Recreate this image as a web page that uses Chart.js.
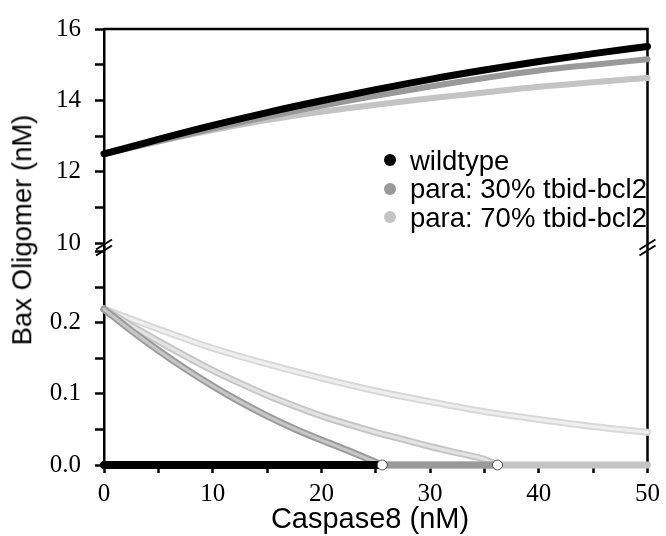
<!DOCTYPE html>
<html>
<head>
<meta charset="utf-8">
<script src="https://cdn.jsdelivr.net/npm/chart.js@4.4.1/dist/chart.umd.min.js"></script>
<style>
  html, body { margin: 0; padding: 0; background: #fff; }
  #wrap { position: relative; width: 666px; height: 536px; overflow: hidden; }
  #chart { position: absolute; left: 0; top: 0; }
  .txt { position: absolute; font-family: 'Liberation Sans', Arial, sans-serif; font-size: 27px; color: #000; white-space: nowrap; line-height: 1; }
  #yTitle { left: 22px; top: 230px; font-size: 27.5px; transform: translate(-50%, -50%) rotate(-90deg); }
  #xTitle { left: 370px; top: 518px; font-size: 29px; transform: translate(-50%, -50%); }
  #legend { left: 384px; top: 146px; font-size: 27.5px; }
  .row { height: 28.5px; display: flex; align-items: center; }
  .dot { width: 12px; height: 12px; border-radius: 50%; margin-right: 14px; flex: none; }
</style>
</head>
<body>
<div id="wrap">
  <canvas id="chart" width="666" height="536"></canvas>
  <div class="txt" id="yTitle">Bax Oligomer (nM)</div>
  <div class="txt" id="xTitle">Caspase8 (nM)</div>
  <div class="txt" id="legend"></div>
</div>
<script>
// series names / colours
const seriesNames = ['wildtype', 'para: 30% tbid-bcl2', 'para: 70% tbid-bcl2'];
const seriesColors = ['#000000', '#999999', '#c4c4c4'];

// upper branch (stable, high Bax)
const xUpper = [0, 5, 10, 15, 20, 25, 30, 35, 40, 45, 50];
const upperWild = [12.5, 12.91, 13.30, 13.66, 13.99, 14.30, 14.59, 14.85, 15.09, 15.31, 15.51];
const upper30 = [12.5, 12.86, 13.21, 13.54, 13.85, 14.13, 14.39, 14.63, 14.84, 15.00, 15.15];
const upper70 = [12.5, 12.85, 13.17, 13.45, 13.68, 13.88, 14.06, 14.22, 14.38, 14.51, 14.63];

// lower branch (stable, zero) – ends at bifurcation point
const lowWildX = [0, 25.6];
const low30X = [0, 36.2];
const low70X = [0, 50];
const lowY = [0, 0];

// unstable branches
const unstWildX = [0, 2.5, 5, 7.5, 10, 12.5, 15, 17.5, 20, 22.5, 25.6];
const unstWildY = [0.219, 0.189, 0.161, 0.135, 0.111, 0.089, 0.069, 0.051, 0.035, 0.020, 0.0];
const unst30X = [0, 2.5, 5, 7.5, 10, 12.5, 15, 17.5, 20, 22.5, 25, 27.5, 30, 32.5, 35, 36.2];
const unst30Y = [0.219, 0.196, 0.174, 0.153, 0.133, 0.115, 0.098, 0.083, 0.069, 0.057, 0.046, 0.036, 0.026, 0.017, 0.008, 0.0];
const unst70X = [0, 5, 10, 15, 20, 25, 30, 35, 40, 45, 50];
const unst70Y = [0.219, 0.191, 0.164, 0.142, 0.122, 0.104, 0.089, 0.075, 0.064, 0.054, 0.046];

// bifurcation points
const bifX = [25.6, 36.2];
const bifY = [0, 0];

// ticks
const xTicks = [0, 5, 10, 15, 20, 25, 30, 35, 40, 45, 50];
const xLabeled = [0, 10, 20, 30, 40, 50];
const yTopTicks = [10, 11, 12, 13, 14, 15, 16];
const yTopLabeled = [10, 12, 14, 16];
const yBotTicks = [0, 0.05, 0.1, 0.15, 0.2, 0.25, 0.3];
const yBotLabeled = [0, 0.1, 0.2];

const pts = (xs, ys) => xs.map((x, i) => ({ x, y: ys[i] }));

// legend (html)
const legendEl = document.getElementById('legend');
seriesNames.forEach((n, i) => {
  const row = document.createElement('div');
  row.className = 'row';
  row.innerHTML = `<span class="dot" style="background:${seriesColors[i]}"></span><span>${n}</span>`;
  legendEl.appendChild(row);
});

function line(data, color, width, axis, extra = {}) {
  return {
    data, yAxisID: axis, borderColor: color, backgroundColor: color, borderWidth: width,
    pointRadius: 0, showLine: true, fill: false, clip: 10,
    borderCapStyle: 'round', borderJoinStyle: 'round', cubicInterpolationMode: 'monotone',
    ...extra,
  };
}

const serif = { family: "'Liberation Serif', 'Times New Roman', serif", size: 25 };

const framePlugin = {
  id: 'frame',
  beforeDatasetsDraw(chart) {
    const { ctx, chartArea: a } = chart;
    ctx.save();
    ctx.strokeStyle = '#000';
    ctx.lineWidth = 2.5;
    ctx.beginPath();
    ctx.moveTo(a.left, a.top);
    ctx.lineTo(a.right, a.top);
    ctx.lineTo(a.right, a.bottom);
    ctx.stroke();
    ctx.restore();
  },
  afterDatasetsDraw(chart) {
    const { ctx, chartArea: a } = chart;
    const yb = chart.scales.yTop.bottom;
    ctx.save();
    ctx.strokeStyle = '#000';
    ctx.lineWidth = 2;
    [a.left, a.right].forEach((x) => {
      [-3, 3].forEach((d) => {
        ctx.beginPath();
        ctx.moveTo(x - 8, yb + d + 5);
        ctx.lineTo(x + 8, yb + d - 5);
        ctx.stroke();
      });
    });
    ctx.restore();
  },
};

const yCommon = {
  type: 'linear', position: 'left', stack: 'y',
  grid: { drawOnChartArea: false, tickLength: 9, tickWidth: 2.5, tickColor: '#000' },
  border: { color: '#000', width: 2.5 },
  afterFit: (s) => { s.width = 104; },
};

new Chart(document.getElementById('chart'), {
  type: 'scatter',
  data: {
    datasets: [
      // bifurcation markers on top
      {
        data: pts(bifX, bifY), yAxisID: 'yBot', showLine: false, clip: false,
        pointRadius: 5, pointBackgroundColor: '#fff', pointBorderColor: '#555', pointBorderWidth: 1,
      },
      line(pts(xUpper, upperWild), seriesColors[0], 7, 'yTop'),
      line(pts(xUpper, upper30), seriesColors[1], 6, 'yTop'),
      line(pts(xUpper, upper70), seriesColors[2], 6, 'yTop'),
      line(pts(lowWildX, lowY), seriesColors[0], 8, 'yBot'),
      line(pts(low30X, lowY), seriesColors[1], 7, 'yBot'),
      line(pts(low70X, lowY), seriesColors[2], 7, 'yBot'),
      // unstable branches: light core over darker rim
      line(pts(unstWildX, unstWildY), '#c8c8c8', 3, 'yBot'),
      line(pts(unstWildX, unstWildY), '#9c9c9c', 7, 'yBot'),
      line(pts(unst30X, unst30Y), '#e4e4e4', 3, 'yBot'),
      line(pts(unst30X, unst30Y), '#c6c6c6', 7, 'yBot'),
      line(pts(unst70X, unst70Y), '#efefef', 3, 'yBot'),
      line(pts(unst70X, unst70Y), '#d8d8d8', 7, 'yBot'),
    ],
  },
  options: {
    responsive: false,
    animation: false,
    layout: { padding: { top: 24, right: 17, left: 0, bottom: 0 } },
    plugins: { legend: { display: false }, tooltip: { enabled: false } },
    scales: {
      x: {
        type: 'linear', min: 0, max: 50,
        afterBuildTicks: (ax) => { ax.ticks = xTicks.map((v) => ({ value: v })); },
        ticks: { callback: (v) => (xLabeled.includes(v) ? String(v) : ''), font: serif, color: '#000', padding: 6, maxRotation: 0, autoSkip: false },
        grid: { drawOnChartArea: false, tickLength: 8, tickWidth: 2.5, tickColor: '#000' },
        border: { color: '#000', width: 2.5 },
        afterFit: (s) => { s.height = 71; },
      },
      yBot: {
        ...yCommon, stackWeight: 220, min: 0, max: 0.3056,
        afterBuildTicks: (ax) => { ax.ticks = yBotTicks.map((v) => ({ value: v })); },
        ticks: { callback: (v) => (yBotLabeled.includes(v) ? v.toFixed(1) : ''), font: serif, color: '#000', padding: 14, autoSkip: false },
      },
      yTop: {
        ...yCommon, stackWeight: 221, min: 9.88, max: 16,
        afterBuildTicks: (ax) => { ax.ticks = yTopTicks.map((v) => ({ value: v })); },
        ticks: { callback: (v) => (yTopLabeled.includes(v) ? String(v) : ''), font: serif, color: '#000', padding: 14, autoSkip: false },
      },
    },
  },
  plugins: [framePlugin],
});
</script>
</body>
</html>
